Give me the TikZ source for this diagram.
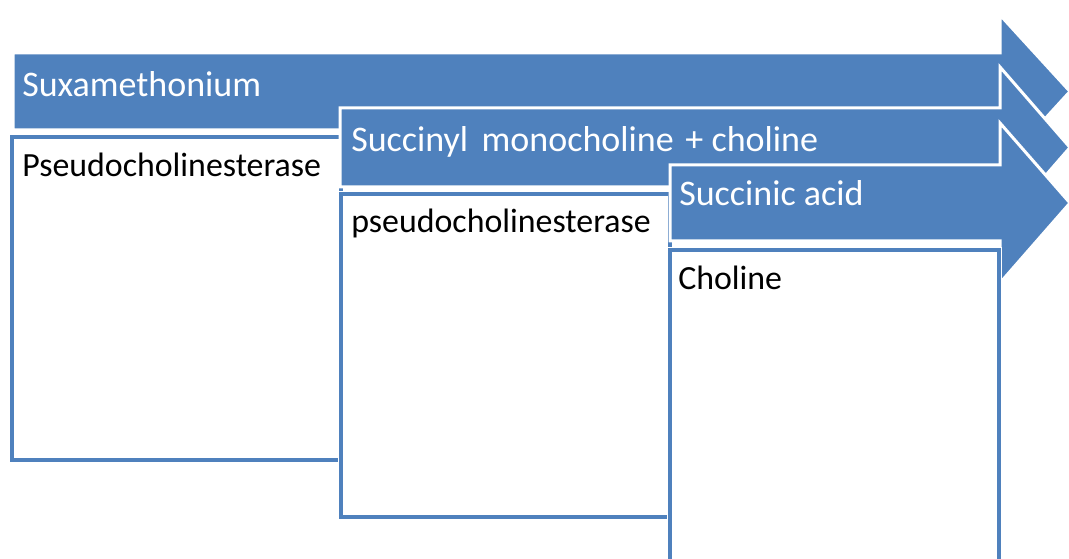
\documentclass[tikz,border=0pt]{standalone}
\usepackage{fontspec}
\setmainfont{Carlito}
\usetikzlibrary{positioning}
\definecolor{officeblue}{RGB}{79,129,189}

\begin{document}
\begin{tikzpicture}[
        x=0.75pt, y=-0.75pt,
        stage/.style={fill=officeblue, draw=white, line width=2.25pt, line join=miter},
        stagetext/.style={text=white, font=\fontsize{27}{32}\selectfont, anchor=base west, inner sep=0pt},
        panel/.style={rectangle, anchor=north west, fill=white, draw=officeblue, line width=3pt,
            preaction={draw=white, line width=5pt}, minimum width=246.75pt, minimum height=242.25pt, inner sep=0pt},
        paneltext/.style={text=black, font=\fontsize{25.4}{30}\selectfont, anchor=base west, inner sep=0pt}
    ]
        \useasboundingbox (0,0) rectangle (1069,559);

        % First step
        \filldraw[stage] (13,53) -- (1000,53) -- (1000,15) -- (1070,91.5) -- (1000,168) -- (1000,130) -- (13,130) -- cycle;
        \node[stagetext] (sux) at (22,97) {Suxamethonium};
        \node[panel] (enz1) at (10,135) {};
        \node[paneltext] (enz1text) at ([shift={(12,42)}]enz1.north west) {Pseudocholinesterase};

        % Second step
        \filldraw[stage] (340,108) -- (1000,108) -- (1000,67) -- (1070,147.5) -- (1000,228) -- (1000,187) -- (340,187) -- cycle;
        \node[stagetext] (smc) at (351,152) {Succinyl\hspace{0.15em} monocholine\hspace{0.1em} + choline};
        \node[panel] (enz2) at (339,192) {};
        \node[paneltext] (enz2text) at ([shift={(12,41)}]enz2.north west) {pseudocholinesterase};

        % Third step
        \filldraw[stage] (670,165) -- (1000,165) -- (1000,123) -- (1070,203) -- (1000,283) -- (1000,241) -- (670,241) -- cycle;
        \node[stagetext] (sac) at (679,206) {Succinic acid};
        \node[panel] (prod3) at (668,248) {};
        \node[paneltext] (prod3text) at ([shift={(10,41)}]prod3.north west) {Choline};
    \end{tikzpicture}
\end{document}
